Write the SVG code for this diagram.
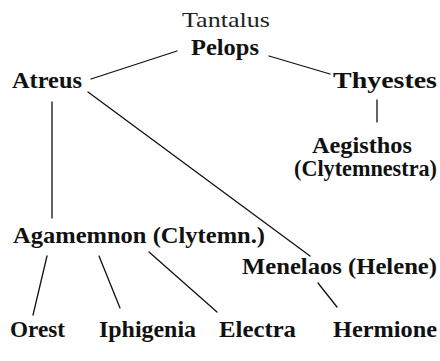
<svg xmlns="http://www.w3.org/2000/svg" width="440" height="361" viewBox="0 0 440 361">
<style>
.t{font-size:24px;font-weight:bold;fill:#111}
.reg{font-weight:normal;font-size:22px;fill:#222}
.c line{stroke:#111;stroke-width:1.3;stroke-linecap:round}
</style>
<rect width="440" height="361" fill="#fff"/>
<g class="c" id="connectors">
<line x1="91" y1="79" x2="177" y2="51"/>
<line x1="269" y1="56" x2="330" y2="74"/>
<line x1="52" y1="102" x2="52" y2="218"/>
<line x1="377" y1="100" x2="377" y2="122"/>
<line x1="88" y1="92" x2="310" y2="256"/>
<line x1="47" y1="256" x2="33" y2="315"/>
<line x1="99" y1="256" x2="120" y2="308"/>
<line x1="149" y1="252" x2="217" y2="312"/>
<line x1="318" y1="283" x2="337" y2="307"/>
</g>
<g font-family="Liberation Serif, Times New Roman, Tinos, DejaVu Serif, serif">
<g id="tantalus"><text class="reg" x="182" y="27" textLength="88" lengthAdjust="spacingAndGlyphs">Tantalus</text></g>
<g id="pelops"><text class="t" x="191" y="55" textLength="68" lengthAdjust="spacingAndGlyphs">Pelops</text></g>
<g id="atreus"><text class="t" x="12" y="88" textLength="70" lengthAdjust="spacingAndGlyphs">Atreus</text></g>
<g id="thyestes"><text class="t" x="333" y="88" textLength="104" lengthAdjust="spacingAndGlyphs">Thyestes</text></g>
<g id="aegisthos"><text class="t" x="312" y="153" textLength="100" lengthAdjust="spacingAndGlyphs">Aegisthos</text><text class="t" x="294" y="176" textLength="143" lengthAdjust="spacingAndGlyphs">(Clytemnestra)</text></g>
<g id="agamemnon"><text class="t" x="13" y="243" textLength="252" lengthAdjust="spacingAndGlyphs">Agamemnon (Clytemn.)</text></g>
<g id="menelaos"><text class="t" x="242" y="274" textLength="195" lengthAdjust="spacingAndGlyphs">Menelaos (Helene)</text></g>
<g id="orest"><text class="t" x="10" y="337" textLength="55" lengthAdjust="spacingAndGlyphs">Orest</text></g>
<g id="iphigenia"><text class="t" x="99" y="337" textLength="97" lengthAdjust="spacingAndGlyphs">Iphigenia</text></g>
<g id="electra"><text class="t" x="219" y="337" textLength="77" lengthAdjust="spacingAndGlyphs">Electra</text></g>
<g id="hermione"><text class="t" x="333" y="337" textLength="104" lengthAdjust="spacingAndGlyphs">Hermione</text></g>
</g>
</svg>
